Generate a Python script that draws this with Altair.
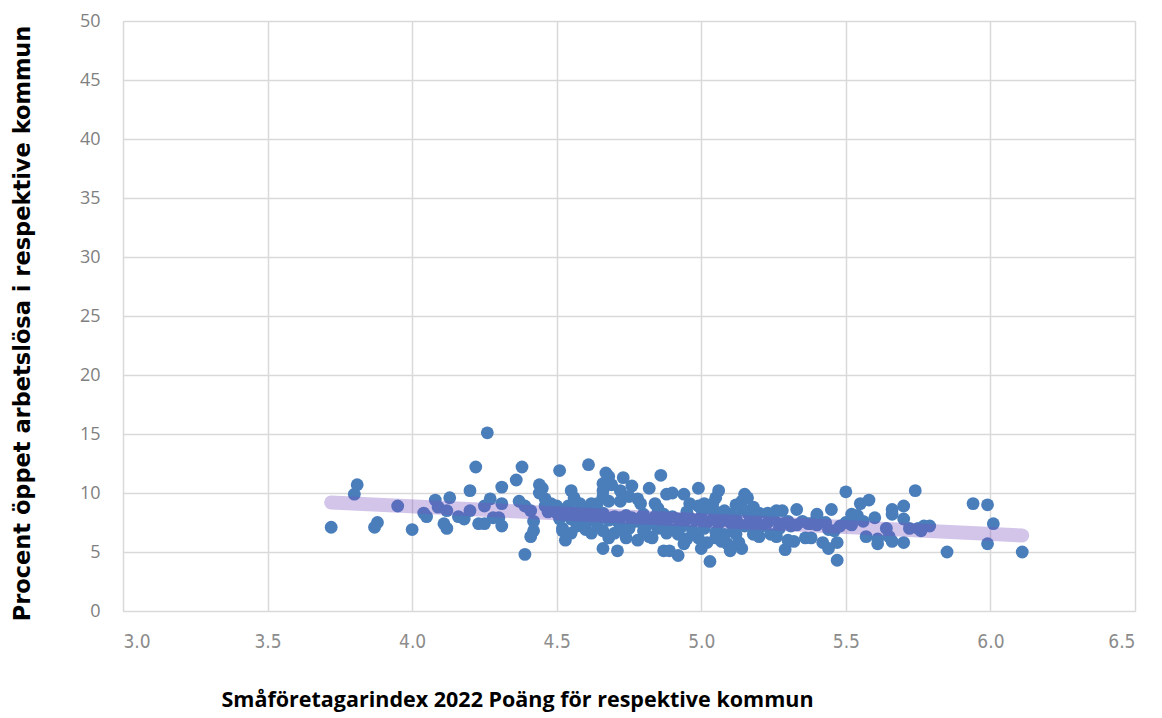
import altair as alt
import pandas as pd

pts_x = [3.72,3.81,3.80,3.95,3.87,3.88,4.00,4.04,4.05,4.08,4.09,4.12,4.11,4.12,4.13,4.16,4.18,4.20,4.20,4.22,
         4.23,4.25,4.25,4.26,4.27,4.28,4.30,4.31,4.31,4.31,4.36,4.38,4.37,4.39,4.39,4.41,4.42,4.42,4.41,4.44,
         4.45,4.44,4.46,4.46,4.51,4.61,4.67,4.68,4.66,4.73,4.86,4.55,4.56,4.66,4.66,4.69,4.72,4.76,4.75,4.82,
         4.78,4.79,4.68,4.72,4.64,4.63,4.84,4.85,4.88,4.48,4.50,4.54,4.58,4.59,4.62,4.52,4.51,4.52,4.52,4.53,
         4.59,4.60,4.62,4.64,4.66,4.68,4.66,4.71,4.72,4.73,4.74,4.78,4.76,4.78,4.81,4.82,4.83,4.87,4.85,4.87,
         4.87,4.69,4.71,4.61,4.56,4.99,5.06,4.90,4.94,5.15,5.14,5.14,5.05,5.04,5.01,4.99,4.96,5.02,5.08,5.20,
         5.23,5.26,5.28,5.16,4.90,4.92,4.95,4.94,4.99,5.00,5.03,5.02,5.05,5.07,5.09,5.10,5.13,5.14,5.12,5.18,
         5.20,5.24,5.26,5.29,4.89,4.92,5.18,5.21,5.27,5.13,5.17,5.30,5.33,5.31,5.32,5.36,5.38,5.37,5.40,5.38,
         5.45,5.44,5.44,5.42,5.47,5.47,5.46,5.48,5.50,5.55,5.58,5.52,5.54,5.57,5.61,5.61,5.60,5.64,5.66,5.66,
         5.65,5.66,5.70,5.70,5.70,5.74,5.94,5.99,6.01,5.99,5.85,6.11,5.75,5.77,5.79,5.76,5.72,
         4.47,4.50,4.53,4.55,4.57,4.60,4.62,4.64,4.66,4.68,4.70,4.72,4.74,4.76,4.79,4.80,4.82,4.84,4.86,4.88,
         4.90,4.92,4.94,4.96,4.98,5.00,5.02,5.04,5.06,5.08,5.10,5.12,5.15,5.19,5.23,5.25,5.28,5.30,5.33,5.35,
         5.40,5.43,5.50,5.52,5.56,4.97,5.01,5.05,5.08,5.11,4.93,4.88,4.80,4.75,4.70,4.57,4.55,4.95,5.00,5.05,
         5.10,5.12,5.18,5.16,5.40]
pts_y = [7.1,10.7,9.9,8.9,7.1,7.5,6.9,8.3,8.0,9.4,8.8,8.5,7.4,7.0,9.6,8.0,7.8,8.5,10.2,12.2,
         7.4,7.4,8.9,15.1,9.5,7.9,7.9,9.1,7.2,10.5,11.1,12.2,9.3,8.9,4.8,8.5,7.6,6.8,6.3,10.7,
         10.4,10.0,9.5,8.9,11.9,12.4,11.7,11.4,10.8,11.3,11.5,10.2,9.6,10.2,9.7,10.7,10.2,10.6,9.7,10.4,
         9.5,9.1,9.3,9.3,9.1,8.6,9.1,8.7,9.9,9.1,8.9,8.9,9.1,8.7,9.1,8.2,7.8,7.0,6.8,6.0,
         7.4,6.9,6.6,7.4,6.8,6.2,5.3,5.1,7.2,6.8,6.2,6.0,7.9,7.6,7.2,6.3,6.2,5.1,7.0,8.2,
         7.4,7.9,7.6,7.9,8.3,10.4,10.2,10.0,9.9,9.9,9.3,8.7,9.6,9.1,9.1,8.9,9.1,8.7,8.5,8.3,
         8.3,8.5,8.5,8.3,6.9,6.5,6.1,5.7,6.2,5.3,4.2,5.8,6.2,5.9,5.7,5.1,5.8,5.3,6.5,6.5,
         6.3,6.5,6.3,5.2,5.1,4.7,7.4,7.2,7.0,7.4,7.8,6.0,8.6,7.2,5.9,6.2,6.2,7.4,8.2,7.4,
         8.6,6.9,5.3,5.8,5.8,4.3,6.8,7.2,10.1,9.1,9.4,8.2,8.1,6.3,6.1,5.7,7.9,7.0,8.6,8.2,
         6.3,5.9,8.9,7.8,5.8,10.2,9.1,9.0,7.4,5.7,5.0,5.0,7.0,7.2,7.2,6.8,7.0,
         8.4,8.3,8.5,7.8,8.0,8.2,7.7,8.0,8.3,7.7,8.0,7.9,8.1,7.5,7.9,8.2,7.6,8.0,7.8,7.6,
         8.0,7.8,7.5,7.9,7.7,8.0,7.5,7.8,7.4,7.7,7.5,7.9,7.2,7.6,7.5,7.8,7.4,7.6,7.3,7.6,
         7.3,7.5,7.5,7.3,7.6,6.8,7.0,6.7,6.5,6.8,7.1,6.6,6.8,7.0,6.6,7.2,6.6,8.4,8.7,8.4,
         8.2,9.0,8.8,9.6,8.0]

trend_x = [3.72, 6.11]
trend_y = [9.2, 6.4]

x_ticks = [3.0, 3.5, 4.0, 4.5, 5.0, 5.5, 6.0, 6.5]
y_ticks = [0, 5, 10, 15, 20, 25, 30, 35, 40, 45, 50]

n = min(len(pts_x), len(pts_y))
df = pd.DataFrame({"x": pts_x[:n], "y": pts_y[:n]})
tdf = pd.DataFrame({"x": trend_x, "y": trend_y})

xscale = alt.Scale(domain=[3.0, 6.5], nice=False, zero=False)
yscale = alt.Scale(domain=[0, 50], nice=False)

xaxis = alt.Axis(
    title="Småföretagarindex 2022 Poäng för respektive kommun",
    values=x_ticks, format=".1f", grid=True, gridColor="#d9d9d9", gridWidth=1.5,
    domain=False, ticks=False,
    labelFont="Liberation Sans Narrow, DejaVu Sans Condensed, Roboto, sans-serif",
    labelFontSize=19, labelColor="#8c8c8c", labelPadding=21,
    titleFont="Open Sans", titleFontWeight="bold", titleFontSize=21.5, titleColor="#000000",
    titleX=394, titleY=89, titleBaseline="middle", titleAlign="center",
)
yaxis = alt.Axis(
    title="Procent öppet arbetslösa i respektive kommun",
    values=y_ticks, grid=True, gridColor="#d9d9d9", gridWidth=1.5,
    domain=False, ticks=False,
    labelFont="Open Sans", labelFontSize=18, labelColor="#7f7f7f", labelPadding=23,
    titleFont="DejaVu Sans", titleFontWeight="bold", titleFontSize=22.5, titleColor="#000000",
    titleX=-101, titleY=302, titleBaseline="middle", titleAlign="center", titleAngle=-90,
)

points = alt.Chart(df).mark_circle(size=165, opacity=1, color="#4a7ebb").encode(
    x=alt.X("x:Q", scale=xscale, axis=xaxis),
    y=alt.Y("y:Q", scale=yscale, axis=yaxis),
)
trend = alt.Chart(tdf).mark_line(color="#7a4fc0", opacity=0.33, strokeWidth=14, strokeCap="round").encode(
    x=alt.X("x:Q", scale=xscale),
    y=alt.Y("y:Q", scale=yscale),
)

chart = alt.layer(points, trend).properties(
    width=1012, height=590,
    autosize=alt.AutoSizeParams(type="none"),
    padding={"left": 115, "top": 13, "right": 19, "bottom": 103},
).configure_view(stroke=None).configure(background="white")

chart.save("out.html", embed_options={"renderer": "svg", "actions": False})
